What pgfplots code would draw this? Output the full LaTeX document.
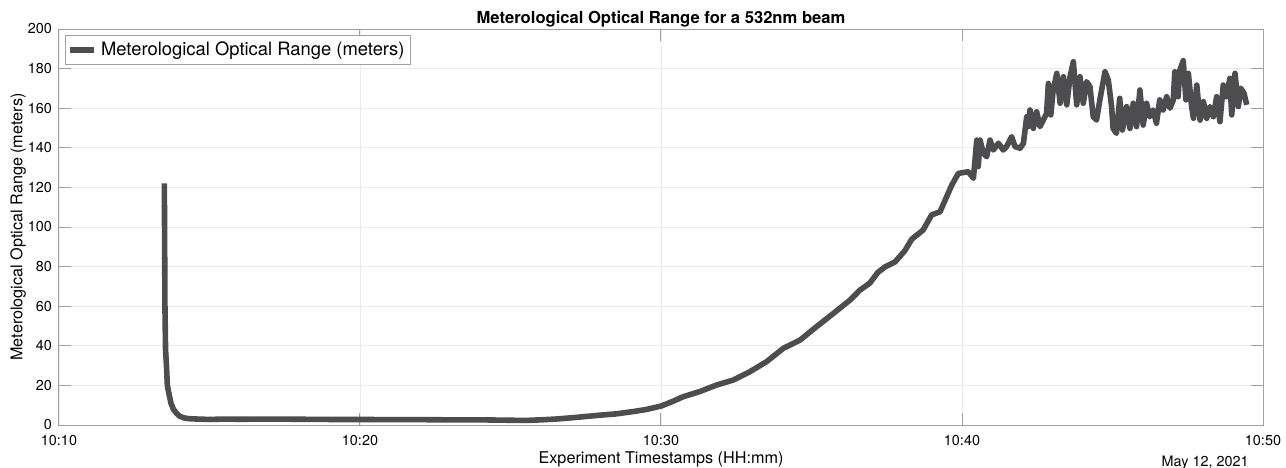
\documentclass[border=0pt]{standalone}
\usepackage{pgfplots}
\pgfplotsset{compat=1.18}
\usepackage{fontspec}
\setmainfont{TeX Gyre Heros}
\definecolor{moline}{RGB}{77,77,80}
\definecolor{gridc}{RGB}{235,235,235}
\definecolor{axc}{RGB}{160,160,160}
% 1 px of the reference = 0.5pt
\begin{document}
\begin{tikzpicture}
\begin{axis}[
  name=ax,
  scale only axis,
  width=602pt, height=198pt,
  xmin=0, xmax=40, ymin=0, ymax=200,
  xtick={0,10,20,30,40},
  xticklabels={10:10,10:20,10:30,10:40,10:50},
  ytick={0,20,...,200},
  grid=major,
  major grid style={gridc, line width=0.4pt},
  axis line style={axc, line width=0.5pt},
  tick style={axc, line width=0.5pt},
  major tick length=6pt,
  tick align=inside,
  xtick pos=both, ytick pos=both,
  /pgf/number format/assume math mode=true,
  tick label style={font=\fontsize{7.2}{8.6}\selectfont},
  xticklabel style={yshift=-1.5pt},
  xlabel={Experiment Timestamps (HH:mm)},
  ylabel={Meterological Optical Range (meters)},
  xlabel style={font=\fontsize{8.1}{9.6}\selectfont, at={(axis description cs:0.5,0)}, anchor=center, yshift=-17pt},
  ylabel style={font=\fontsize{8.1}{9.6}\selectfont, at={(axis description cs:-0.034,0.5)}, anchor=center},
  title={Meterological Optical Range for a 532nm beam},
  title style={font=\bfseries\fontsize{8.3}{9.8}\selectfont, at={(axis description cs:0.5,1)}, anchor=center, yshift=-1pt},
  legend style={at={(axis description cs:0,1)}, xshift=3pt, yshift=-3pt, anchor=north west,
    draw=axc, line width=0.5pt, font=\fontsize{9.2}{11}\selectfont, inner sep=1pt,
    legend cell align=left},
  legend image code/.code={\draw[#1] (0pt,0pt) -- (12pt,0pt);},
  clip mode=individual,
]
\addplot[moline, line width=2.8pt, line join=round] table {
x y
3.50 122
3.51 90
3.52 60
3.54 38
3.57 30
3.60 20
3.65 16
3.72 11
3.80 8
3.90 6
4.00 4.5
4.15 3.6
4.30 3.2
4.60 3.0
5.0 2.8
5.5 3.0
6.0 2.9
7.0 3.0
8.0 2.9
9.0 2.8
10.0 2.8
11.0 2.7
12.0 2.7
13.0 2.6
14.0 2.6
15.0 2.4
15.5 2.3
16.0 2.6
16.5 3.0
17.0 3.6
17.5 4.3
18.0 5.0
18.5 5.6
19.08 6.8
19.5 7.8
20.01 9.6
20.4 12.0
20.74 14.3
21.29 16.9
21.85 20.2
22.40 22.7
22.95 26.9
23.51 32.0
24.06 38.7
24.62 42.9
25.17 49.7
25.73 56.4
26.28 63.1
26.60 68.0
26.94 71.7
27.20 77.0
27.44 79.8
27.77 82.3
28.10 88.0
28.33 93.8
28.71 98.5
28.99 106.1
29.27 107.7
29.49 115.3
29.66 121.2
29.88 127.1
30.21 127.9
30.38 124.6
30.49 143.9
30.54 130.5
30.60 143.9
30.71 137.2
30.82 135.5
30.93 143.9
31.04 138.9
31.21 142.3
31.37 138.9
31.48 140.6
31.65 145.6
31.76 140.6
31.93 139.8
32.04 142.3
32.15 155.7
32.20 150.7
32.26 159.1
32.37 149.8
32.48 158.2
32.59 150.7
32.70 154.0
32.81 157.4
32.87 172.5
32.95 156.6
33.03 169.2
33.15 177.6
33.26 162.5
33.37 175.9
33.48 161.7
33.59 175.9
33.70 183.5
33.81 161.7
33.92 175.9
34.03 162.5
34.14 173.4
34.25 170.9
34.36 155.7
34.47 154.0
34.58 164.2
34.75 178.4
34.86 174.2
34.97 160.8
35.02 149.8
35.13 147.3
35.24 165.0
35.33 149.0
35.47 160.8
35.58 149.8
35.69 162.5
35.80 150.7
35.91 169.2
36.02 151.5
36.13 162.5
36.24 155.7
36.35 159.1
36.46 152.4
36.57 164.2
36.68 159.1
36.80 165.8
36.91 160.0
37.02 164.2
37.07 178.4
37.18 165.8
37.24 179.3
37.35 184.0
37.44 164.2
37.52 177.6
37.63 160.8
37.69 154.9
37.80 171.7
37.91 154.0
38.02 163.3
38.13 154.9
38.24 160.8
38.35 155.7
38.46 165.8
38.57 153.2
38.68 171.7
38.79 165.8
38.90 175.1
38.96 156.6
39.07 177.6
39.18 160.8
39.26 170.1
39.37 167.5
39.46 161.7
};
\addlegendentry{Meterological Optical Range (meters)}
\end{axis}
\node[anchor=east, font=\fontsize{7.2}{8.6}\selectfont, inner sep=0pt] at ([xshift=-7pt, yshift=-19pt]ax.south east) {May 12, 2021};
\pgfresetboundingbox
\path (-29.5pt,-21pt) rectangle (613.5pt,212.5pt);
\end{tikzpicture}
\end{document}
